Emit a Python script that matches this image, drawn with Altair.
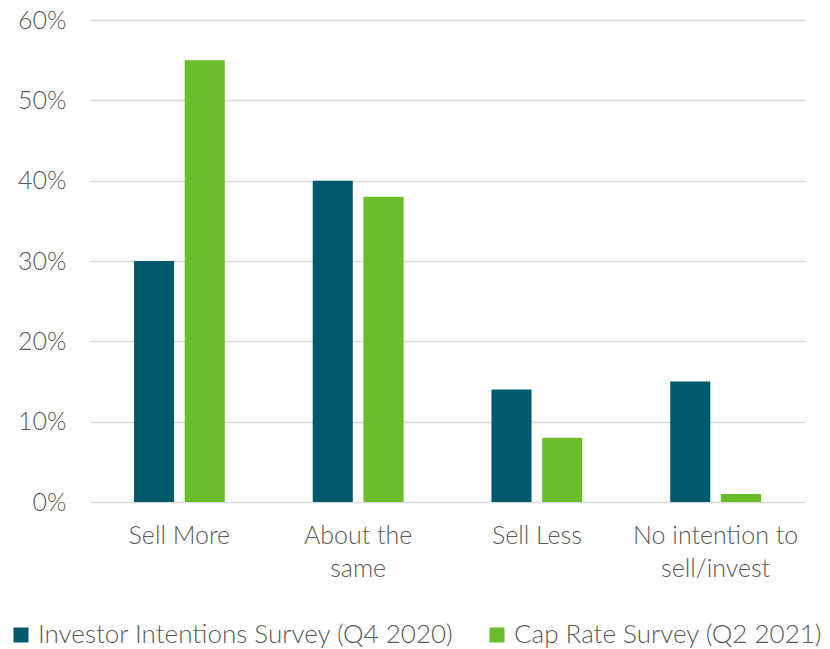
import altair as alt
import pandas as pd

categories = ["Sell More", "About the same", "Sell Less", "No intention to sell/invest"]
series_names = ["Investor Intentions Survey (Q4 2020)", "Cap Rate Survey (Q2 2021)"]
investor_q4_2020 = [0.30, 0.40, 0.14, 0.15]
cap_rate_q2_2021 = [0.55, 0.38, 0.08, 0.01]
colors = ["#005A6E", "#6ABD2A"]

rows = []
for c, a, b in zip(categories, investor_q4_2020, cap_rate_q2_2021):
    rows.append({"category": c, "series": series_names[0], "value": a})
    rows.append({"category": c, "series": series_names[1], "value": b})
df = pd.DataFrame(rows)

FONT = "Lato"
TEXT = "#595959"
FS = 25

label_expr = (
    "datum.value == 'About the same' ? ['About the', 'same'] : "
    "datum.value == 'No intention to sell/invest' ? ['No intention to', 'sell/invest'] : datum.label"
)

chart = (
    alt.Chart(df)
    .mark_bar()
    .encode(
        x=alt.X(
            "category:N",
            sort=categories,
            title=None,
            scale=alt.Scale(paddingInner=0.492, paddingOuter=0.246),
            axis=alt.Axis(
                labelAngle=0,
                labelExpr=label_expr,
                labelFont=FONT,
                labelFontSize=FS,
                labelFontWeight=300,
                labelColor=TEXT,
                labelLineHeight=33,
                labelPadding=21,
                labelLimit=400,
                ticks=False,
                domain=False,
                grid=False,
            ),
        ),
        xOffset=alt.XOffset(
            "series:N",
            sort=series_names,
            scale=alt.Scale(paddingInner=0.21, paddingOuter=0),
        ),
        y=alt.Y(
            "value:Q",
            title=None,
            scale=alt.Scale(domain=[0, 0.6]),
            axis=alt.Axis(
                values=[0, 0.1, 0.2, 0.3, 0.4, 0.5, 0.6],
                format=".0%",
                labelFont=FONT,
                labelFontSize=FS,
                labelFontWeight=300,
                labelColor=TEXT,
                labelPadding=24,
                ticks=False,
                domain=False,
                grid=True,
                gridColor="#D9D9D9",
                gridWidth=1.5,
            ),
        ),
        color=alt.Color(
            "series:N",
            sort=series_names,
            scale=alt.Scale(domain=series_names, range=colors),
            legend=alt.Legend(
                title=None,
                orient="none",
                direction="horizontal",
                legendX=-82,
                legendY=602,
                symbolType="square",
                symbolSize=225,
                symbolStrokeWidth=0,
                labelFont=FONT,
                labelFontSize=26,
                labelFontWeight=300,
                labelColor=TEXT,
                labelOffset=4,
                labelLimit=600,
                columnPadding=30,
            ),
        ),
    )
    .properties(
        width=715,
        height=482,
        background="white",
        autosize=alt.AutoSizeParams(type="none"),
        padding={"left": 90, "top": 20, "right": 25, "bottom": 147},
    )
    .configure_view(strokeWidth=0, stroke=None)
)

chart.save("out.html", embed_options={"renderer": "svg", "actions": False})
